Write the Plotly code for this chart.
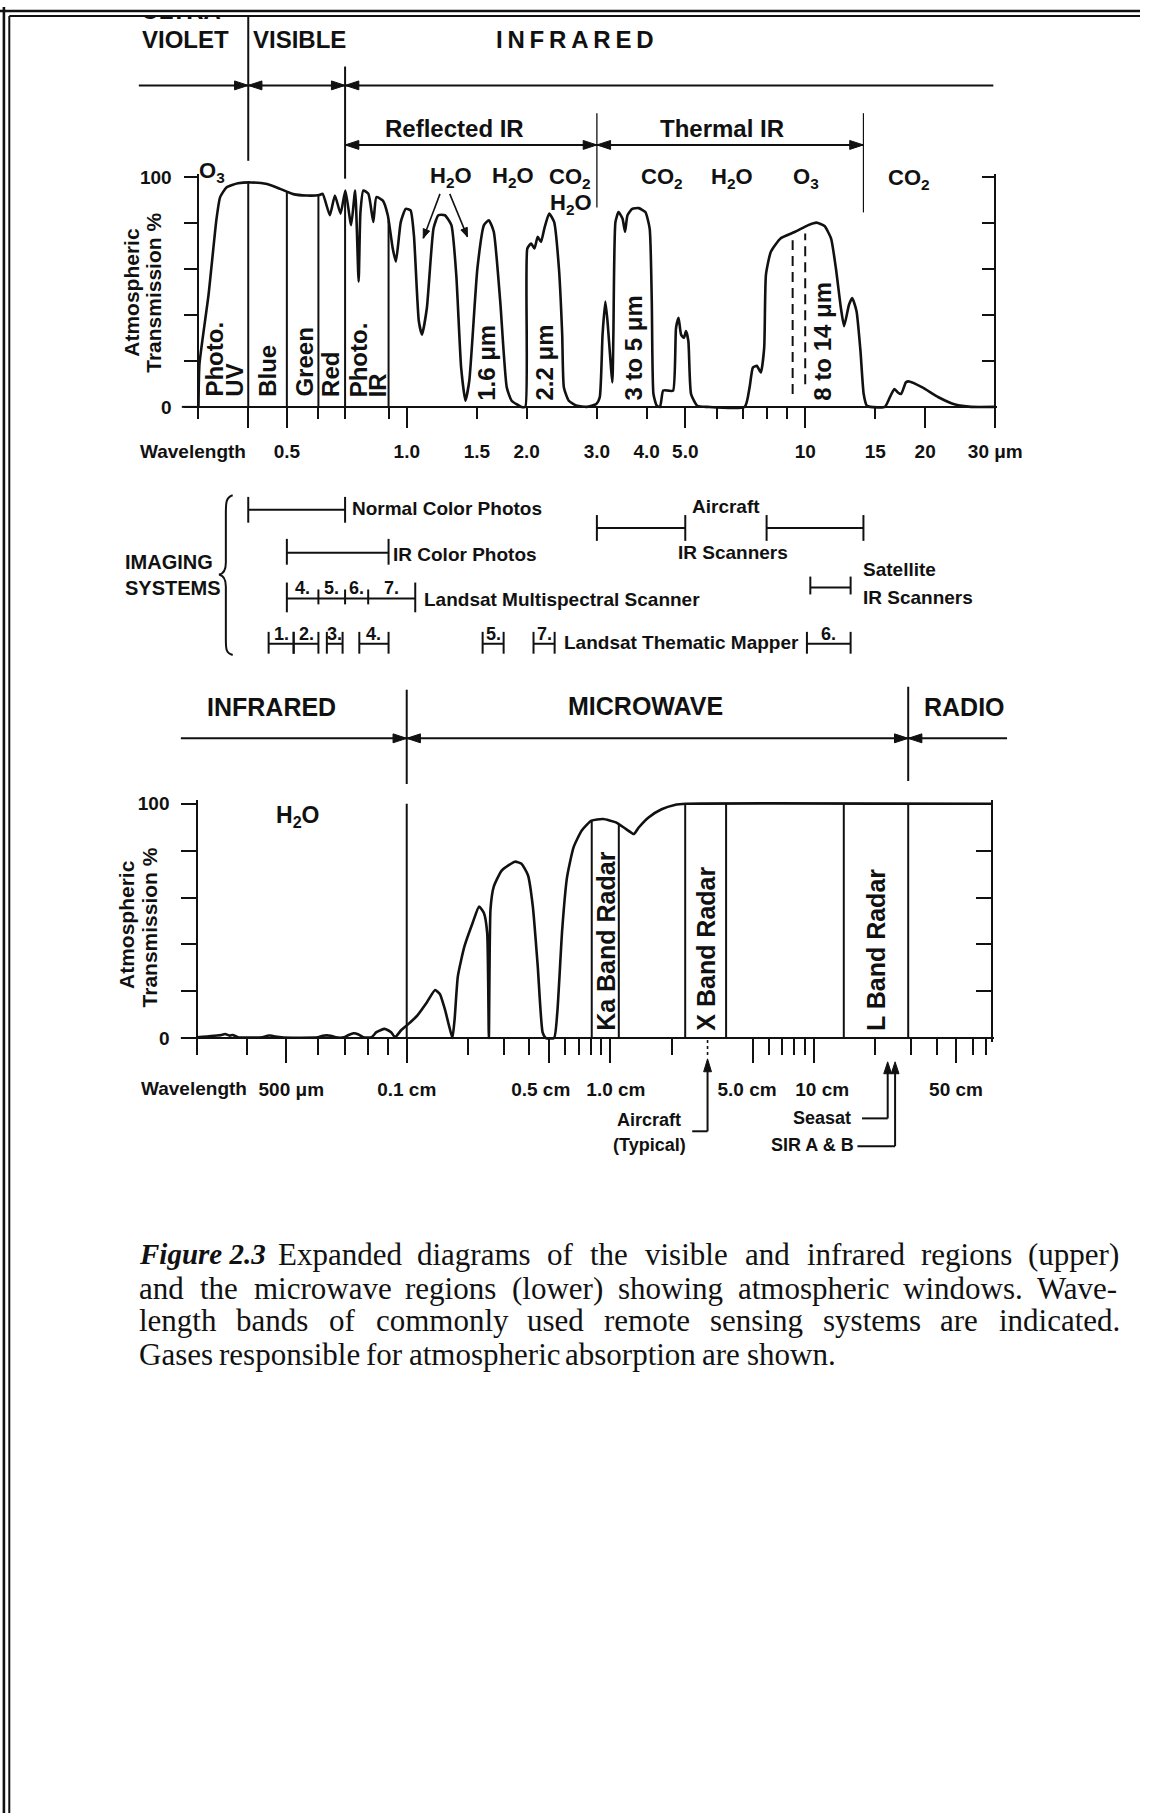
import numpy as np
import plotly.graph_objects as go

W, H = 1166, 1820
SANS = "Liberation Sans, Arial, Helvetica, sans-serif"
SERIF = "Liberation Serif, Times New Roman, serif"
INK = "#111111"

# ---------------- data: upper panel (visible / infrared), wavelength in micrometres ----------------
UP_WL = [0.300, 0.3017, 0.318, 0.333, 0.340, 0.353, 0.377, 0.406, 0.446, 0.481, 0.519, 0.560, 0.603,
         0.615, 0.641, 0.660, 0.682, 0.701, 0.725, 0.742, 0.757, 0.765, 0.778, 0.801, 0.824, 0.839,
         0.871, 0.896, 0.922, 0.939, 0.966, 0.994, 1.022, 1.042, 1.072, 1.092, 1.123, 1.167, 1.200,
         1.246, 1.294, 1.331, 1.369, 1.403, 1.435, 1.504, 1.562, 1.607, 1.653, 1.716, 1.782, 1.833,
         1.940, 1.984, 2.007, 2.052, 2.091, 2.131, 2.172, 2.214, 2.277, 2.343, 2.409, 2.455, 2.479,
         2.550, 2.674, 2.83, 2.99, 3.05, 3.10, 3.15, 3.19, 3.28, 3.30, 3.34, 3.40, 3.48, 3.53, 3.58,
         3.68, 3.82, 3.97, 4.07, 4.12, 4.16, 4.24, 4.32, 4.40, 4.53, 4.66, 4.74, 4.81, 4.88, 4.96,
         5.02, 5.09, 5.17, 5.36, 5.68, 7.05, 7.25, 7.39, 7.56, 7.74, 7.89, 7.97, 8.20, 8.67, 9.44,
         10.18, 10.67, 11.18, 11.61, 11.94, 12.29, 12.52, 12.88, 13.12, 13.45, 13.76, 14.02, 14.28,
         14.56, 15.85, 16.45, 16.76, 17.08, 17.41, 17.90, 18.24, 19.68, 21.6, 23.8, 26.1, 30.0]
UP_T = [0, 18.6, 48.9, 82.0, 91.4, 95.7, 97.4, 97.8, 97.1, 95.0, 92.7, 92.1, 92.3,
        92.8, 83.5, 92.1, 84.2, 94.3, 79.2, 94.3, 54.6, 84.9, 94.3, 92.8, 80.6, 91.4,
        89.9, 83.5, 69.0, 63.3, 80.6, 86.3, 85.6, 74.8, 37.3, 31.5, 43.1, 77.7, 83.5,
        83.5, 79.2, 57.5, 17.1, 2.7, 11.4, 60.4, 79.2, 81.3, 76.3, 46.0, 8.5, 2.7,
        0, 0, 69.0, 71.2, 69.0, 74.1, 71.9, 77.7, 84.2, 80.6, 60.4, 31.5, 8.5,
        2.7, 0.5, 0, 1.3, 4.2, 31.5, 45.9, 37.3, 10.7, 31.5, 80.6, 84.9, 82.0, 76.3, 83.5,
        86.3, 86.6, 84.9, 77.7, 46.0, 5.6, 0.5, 0, 7.1, 7.1, 7.1, 34.4, 38.8, 31.5, 30.1,
        33.0, 28.7, 5.6, 0.5, 0, 0, 8.5, 17.1, 17.9, 15.0, 25.8, 57.6, 67.6, 73.4, 76.3,
        79.2, 80.3, 78.8, 73.4, 60.4, 43.1, 35.2, 44.5, 47.4, 41.8, 24.5, 5.6, 0.5,
        0, 0, 5.6, 7.8, 6.3, 5.6, 10.7, 11.1, 8.5, 4.2, 1.0, 0, 0]

UP_BAND_EDGES = [0.4, 0.5, 0.6, 0.7, 0.9]           # Photo UV | Blue | Green | Red | Photo IR
UP_DASH_WL = [9.3, 10.0]                             # dashed O3 lines
UP_DASH_LO = [5.6, 9.9]
UP_DASH_HI = [72.6, 75.5]
H2O_ARROW_WL = [1.10, 1.42]                          # absorption bands pointed at by H2O
H2O_ARROW_T = [73.5, 74.1]
UP_LABEL_VALS = [0.5, 1.0, 1.5, 2.0, 3.0, 4.0, 5.0, 10, 15, 20, 30]
UP_LABEL_TEXT = ["0.5", "1.0", "1.5", "2.0", "3.0", "4.0", "5.0", "10", "15", "20", "30 μm"]
UP_MINOR = [0.3, 0.4, 0.6, 0.7, 0.9, 6, 7, 8, 9]
UP_LONG = [0.4, 0.5, 1.0, 5.0, 10, 20, 30]
Y_LABELED = [0, 100]
Y_MINOR = [20, 40, 60, 80]

# imaging systems (micrometres)
NORMAL_PHOTO = (0.4, 0.7)
IR_PHOTO = (0.5, 0.9)
MSS_EDGES = [0.5, 0.6, 0.7, 0.8, 1.05]
MSS_NAMES = ["4.", "5.", "6.", "7."]
TM_BANDS = [(0.45, 0.52), (0.52, 0.60), (0.63, 0.69), (0.76, 0.90), (1.55, 1.75), (2.08, 2.35), (10.1, 13.0)]
TM_NAMES = ["1.", "2.", "3.", "4.", "5.", "7.", "6."]
AIR_IR = [(3.0, 5.0), (8.0, 14.0)]
SAT_IR = (10.3, 13.0)

# ---------------- data: lower panel (microwave), wavelength in cm ----------------
LOW_WL = [0.0300, 0.0345, 0.0352, 0.0362, 0.0368, 0.0379, 0.0436, 0.0449, 0.0461, 0.0470, 0.0493,
          0.0600, 0.0617, 0.0646, 0.0665, 0.0697, 0.0716, 0.0737, 0.0758, 0.0779, 0.0817, 0.0840,
          0.0881, 0.0914, 0.0935, 0.0967, 0.1008, 0.1126, 0.1257, 0.1378, 0.1456, 0.1539, 0.1614,
          0.1676, 0.1719, 0.1783, 0.1920, 0.2104, 0.2266, 0.2395, 0.2484, 0.2531, 0.2579, 0.2675,
          0.2932, 0.3400, 0.3658, 0.3939, 0.4162, 0.4399, 0.4648, 0.4822, 0.5290, 0.5487, 0.5799,
          0.6129, 0.6600, 0.7234, 0.8078, 0.9194, 1.065, 1.190, 1.304, 1.378, 1.539, 1.785, 2.068,
          2.352, 75.0]
LOW_T = [0.3, 1.3, 1.7, 1.0, 1.3, 0.3, 0.3, 1.0, 1.0, 0.6, 0.2,
         0.3, 1.0, 1.0, 0.3, 0.3, 1.3, 2.0, 1.5, 0.3, 0.3, 2.5,
         3.9, 2.5, 0.3, 3.2, 5.6, 9.6, 15.3, 20.5, 18.7, 12.3, 5.2,
         0.0, 8.1, 26.4, 39.1, 49.0, 56.1, 53.3, 44.8, 0.0, 55.0, 64.6,
         71.6, 75.3, 74.4, 69.5, 56.1, 30.6, 2.4, 0.0, 0.0, 10.9, 46.2,
         68.8, 81.5, 88.6, 92.8, 93.5, 92.1, 89.3, 87.1, 89.9, 94.2, 97.7, 99.5,
         100.0, 100.0]
LOW_BAND_EDGES = [0.81, 1.10, 2.33, 3.70, 14.0, 29.0]   # Ka | X | L band radar edges
LOW_BOUNDARY = 0.1                                      # infrared / microwave
LOW_BANDS = [("Ka Band Radar", 0.81, 1.10), ("X Band Radar", 2.33, 3.70), ("L Band Radar", 14.0, 29.0)]
LOW_LONG = [0.05, 0.1, 0.5, 1.0, 5.0, 10, 50]
LOW_LABEL_AT = [0.0515, 0.1, 0.455, 1.065, 4.69, 10.97, 49.8]
LOW_LABEL_TEXT = ["500 μm", "0.1 cm", "0.5 cm", "1.0 cm", "5.0 cm", "10 cm", "50 cm"]
LOW_MINOR = [0.03, 0.04, 0.06, 0.07, 0.08, 0.09, 0.2, 0.3, 0.4, 0.6, 0.7, 0.8, 0.9,
             2, 6, 7, 8, 9, 20, 30, 40, 60, 70]
AIRCRAFT_CM = 3.0
SEASAT_CM = 23.0
SIR_CM = 25.0

# ---------------- geometry (page pixels) ----------------
def fx(px): return px / W
def fy(py): return 1 - py / H

UPX0, UPDEC = 203.0, 407.5          # pixel of 0.3 µm, pixels per decade
UPY0, UPY100 = 403.0, 171.7
def px_up(lam): return UPX0 + UPDEC * np.log10(np.asarray(lam, float) / 0.3)
up_ppu = (UPY0 - UPY100) / 100.0
def py_up(t): return UPY0 - up_ppu * np.asarray(t, float)

LOX1, LODEC, LOK = 416.0, 208.3, 1.967   # pixel of 0.1 cm, px per decade, stretch below 0.1 cm
LOY0, LOY100 = 1039.0, 803.0
def u_low(lam):
    lam = np.asarray(lam, float)
    r = np.log10(lam / 0.1)
    return np.where(lam < 0.1, LOK * r, r)
def px_low(lam): return LOX1 + LODEC * u_low(lam)
lo_ppu = (LOY0 - LOY100) / 100.0

XPAD, YPAD, UPAD = 0.004, 1.5, 0.008
xr_up = [np.log10(0.3) - XPAD, np.log10(30) + XPAD]
xd_up = [fx(UPX0 - XPAD * UPDEC), fx(float(px_up(30)) + XPAD * UPDEC)]
yr_up = [-YPAD, 100 + YPAD]
yd_up = [fy(UPY0 + YPAD * up_ppu), fy(UPY100 - YPAD * up_ppu)]

xr_lo = [float(u_low(0.03)) - UPAD, float(u_low(75)) + UPAD]
xd_lo = [fx(float(px_low(0.03)) - UPAD * LODEC), fx(float(px_low(75)) + UPAD * LODEC)]
yr_lo = [-YPAD, 100 + YPAD]
yd_lo = [fy(LOY0 + YPAD * lo_ppu), fy(LOY100 - YPAD * lo_ppu)]

TICKFONT = dict(family=SANS, size=19, color=INK, weight="bold")
common = dict(showgrid=False, zeroline=False, linecolor=INK, linewidth=2, tickcolor=INK,
              tickwidth=2, fixedrange=True)

fig = go.Figure()

# ---------------- upper chart ----------------
fig.add_trace(go.Scatter(x=UP_WL, y=UP_T, mode="lines", xaxis="x", yaxis="y",
                         line=dict(color=INK, width=2.6, shape="spline", smoothing=0.5),
                         hoverinfo="skip", showlegend=False))
lw = np.log10(UP_WL)
bx, by = [], []
for b in UP_BAND_EDGES:
    top = float(np.interp(np.log10(b), lw, UP_T))
    bx += [b, b, None]
    by += [0, top, None]
fig.add_trace(go.Scatter(x=bx, y=by, mode="lines", xaxis="x", yaxis="y",
                         line=dict(color=INK, width=2), hoverinfo="skip", showlegend=False))
dx, dy = [], []
for w_, lo, hi in zip(UP_DASH_WL, UP_DASH_LO, UP_DASH_HI):
    dx += [w_, w_, None]
    dy += [lo, hi, None]
fig.add_trace(go.Scatter(x=dx, y=dy, mode="lines", xaxis="x", yaxis="y",
                         line=dict(color=INK, width=2, dash="10px,6px"), hoverinfo="skip", showlegend=False))
fig.add_trace(go.Scatter(x=[], y=[], xaxis="x2", yaxis="y", showlegend=False))
fig.add_trace(go.Scatter(x=[], y=[], xaxis="x", yaxis="y2", showlegend=False))

# ---------------- lower chart ----------------
fig.add_trace(go.Scatter(x=u_low(LOW_WL), y=LOW_T, mode="lines", xaxis="x3", yaxis="y3",
                         line=dict(color=INK, width=2.6, shape="spline", smoothing=0.5),
                         hoverinfo="skip", showlegend=False))
lwl = u_low(LOW_WL)
bx, by = [], []
for b in LOW_BAND_EDGES:
    top = float(np.interp(u_low(b), lwl, LOW_T))
    bx += [float(u_low(b))] * 2 + [None]
    by += [0, top, None]
bx += [float(u_low(LOW_BOUNDARY))] * 2 + [None]
by += [0, 100, None]
fig.add_trace(go.Scatter(x=bx, y=by, mode="lines", xaxis="x3", yaxis="y3",
                         line=dict(color=INK, width=2), hoverinfo="skip", showlegend=False))
fig.add_trace(go.Scatter(x=[], y=[], xaxis="x3", yaxis="y4", showlegend=False))
fig.add_trace(go.Scatter(x=[], y=[], xaxis="x8", yaxis="y3", showlegend=False))

# ---------------- imaging systems bars (shared wavelength scale, page rows) ----------------
ix, iy = [], []
def bar(a, b, y, up, dn):
    ix.extend([a, b, None, a, a, None, b, b, None])
    iy.extend([y, y, None, y - up, y + dn, None, y - up, y + dn, None])
def tick(a, y, up, dn):
    ix.extend([a, a, None])
    iy.extend([y - up, y + dn, None])

Y_NCP, Y_IRP, Y_AIR, Y_SAT, Y_MSS, Y_TM = 506.7, 550.0, 525.0, 585.0, 596.0, 641.7
bar(*NORMAL_PHOTO, Y_NCP, 13, 13)
bar(*IR_PHOTO, Y_IRP, 14, 12)
for a, b in AIR_IR:
    bar(a, b, Y_AIR, 13, 13)
bar(*SAT_IR, Y_SAT, 11, 7)
bar(MSS_EDGES[0], MSS_EDGES[-1], Y_MSS, 16, 14)
for e in MSS_EDGES[1:-1]:
    tick(e, Y_MSS, 9, 6)
for a, b in TM_BANDS:
    bar(a, b, Y_TM, 12, 10)
fig.add_trace(go.Scatter(x=ix, y=iy, mode="lines", xaxis="x6", yaxis="y5",
                         line=dict(color=INK, width=2), hoverinfo="skip", showlegend=False))

# clipped "ULTRA-" heading at the very top (mostly hidden by the frame)
fig.add_trace(go.Scatter(x=[189.4], y=[6], mode="text", text=["<b>ULTRA-</b>"], xaxis="x5", yaxis="y5",
                         textfont=dict(family=SANS, size=24, color=INK), hoverinfo="skip", showlegend=False))

# ---------------- annotations ----------------
anns = []
def txt(s, x, y, size=19, xa="center", ya="middle", angle=0, bold=True, family=SANS):
    anns.append(dict(text=(f"<b>{s}</b>" if bold else s), x=x, y=y, xref="x5", yref="y5",
                     showarrow=False, xanchor=xa, yanchor=ya, textangle=angle,
                     font=dict(family=family, size=size, color=INK), borderpad=0, borderwidth=0))

TS = "\u2009"
txt("VIOLET", 189.4, 33, 24)
txt("VISIBLE", 306, 33, 24)
txt(TS.join("INFRARED"), 588.5, 33, 24)
txt("Reflected IR", 465, 122, 24)
txt("Thermal IR", 738.6, 122, 24)

txt("O<sub>3</sub>", 204, 166, 22, xa="left")
txt("H<sub>2</sub>O", 461.5, 171, 22)
txt("H<sub>2</sub>O", 525, 171, 22)
txt("CO<sub>2</sub>", 583, 172.5, 22)
txt("H<sub>2</sub>O", 584, 199, 22)
txt("CO<sub>2</sub>", 677.5, 172.5, 22)
txt("H<sub>2</sub>O", 749, 172.5, 22)
txt("O<sub>3</sub>", 824, 172.5, 22)
txt("CO<sub>2</sub>", 930, 173, 22)

txt("Atmospheric", 135, 287, 21, angle=-90)
txt("Transmission %", 157.5, 288, 21, angle=-90)
txt("Wavelength", 143, 448.3, 19, xa="left")
txt("Atmospheric", 130, 925, 21, angle=-90)
txt("Transmission %", 153, 928, 21, angle=-90)
txt("Wavelength", 144, 1090, 19, xa="left")

for s, x, yb in [("Photo.", 219, 393), ("UV", 239.5, 393), ("Blue", 274, 393), ("Green", 311, 393),
                 ("Red", 338, 393), ("Photo.", 367, 393), ("IR", 387, 393),
                 ("1.6 μm", 498, 397), ("2.2 μm", 557, 397), ("3 to 5 μm", 647.5, 397),
                 ("8 to 14 μm", 841, 397)]:
    txt(s, x, yb, 24, ya="bottom", angle=-90)

txt("IMAGING", 128, 559.5, 20, xa="left")
txt("SYSTEMS", 128, 585.5, 20, xa="left")
txt("Normal Color Photos", float(px_up(NORMAL_PHOTO[1])) + 7, 505, 19, xa="left")
txt("IR Color Photos", float(px_up(IR_PHOTO[1])) + 5, 551.7, 19, xa="left")
txt("Landsat Multispectral Scanner", float(px_up(MSS_EDGES[-1])) + 9, 596.7, 19, xa="left")
txt("Landsat Thematic Mapper", float(px_up(TM_BANDS[5][1])) + 10, 640, 19, xa="left")
txt("Aircraft", float(px_up(np.sqrt(AIR_IR[0][1] * AIR_IR[1][0]))), 503, 19)
txt("IR Scanners", 750, 549.5, 19)
txt("Satellite", float(px_up(SAT_IR[1])) + 13, 567, 19, xa="left")
txt("IR Scanners", float(px_up(SAT_IR[1])) + 13, 595, 19, xa="left")
for i, nm in enumerate(MSS_NAMES):
    c = np.sqrt(MSS_EDGES[i] * MSS_EDGES[i + 1])
    txt(nm, float(px_up(c)), 585, 18)
for (a, b), nm in zip(TM_BANDS, TM_NAMES):
    txt(nm, float(px_up(np.sqrt(a * b))), 632, 18)

txt("INFRARED", 278, 705, 25)
txt("MICROWAVE", 660, 704, 25)
txt("RADIO", 986.5, 705, 25)
txt("H<sub>2</sub>O", 304, 816, 23)
for s, a, b in LOW_BANDS:
    c = float(LOX1 + LODEC * (u_low(a) + u_low(b)) / 2)
    txt(s, c, 1032, 25, ya="bottom", angle=-90)
txt("Aircraft", 664, 1122, 18)
txt("(Typical)", 664, 1147, 18)
txt("Seasat", 870, 1120, 18, xa="right")
txt("SIR A & B", 873, 1147, 18, xa="right")

# caption (justified word by word, Times metrics)
TIMES = {' ': 250, '(': 333, ')': 333, '.': 250, '-': 333, ',': 250, 'a': 444, 'b': 500, 'c': 444,
         'd': 500, 'e': 444, 'f': 333, 'g': 500, 'h': 500, 'i': 278, 'j': 278, 'k': 500, 'l': 278,
         'm': 778, 'n': 500, 'o': 500, 'p': 500, 'q': 500, 'r': 333, 's': 389, 't': 278, 'u': 500,
         'v': 500, 'w': 722, 'x': 500, 'y': 500, 'z': 444, 'E': 611, 'G': 722, 'W': 944}
def tw(s, size): return sum(TIMES.get(c, 500) for c in s) * size / 1000.0
CAP_SIZE = 31
def cap_line(text, y, x0, x1=None):
    words = text.split()
    widths = [tw(w_, CAP_SIZE) for w_ in words]
    gap = 0.27 * CAP_SIZE if x1 is None else (x1 - x0 - sum(widths)) / (len(words) - 1)
    x = x0
    for w_, wd in zip(words, widths):
        txt(w_, x, y, CAP_SIZE, xa="left", bold=False, family=SERIF)
        x += wd + gap
txt("<b><i>Figure 2.3</i></b>", 142, 1257, 29, xa="left", bold=False, family=SERIF)
cap_line("Expanded diagrams of the visible and infrared regions (upper)", 1257, 284, 1143)
cap_line("and the microwave regions (lower) showing atmospheric windows. Wave-", 1291, 142, 1143)
cap_line("length bands of commonly used remote sensing systems are indicated.", 1324, 142, 1143)
cap_line("Gases responsible for atmospheric absorption are shown.", 1358, 142)

# ---------------- shapes (frame, region arrows, pointers) ----------------
shapes = []
def seg(x0, y0, x1, y1, w=2, dash="solid"):
    shapes.append(dict(type="line", x0=x0, y0=y0, x1=x1, y1=y1, xref="x5", yref="y5",
                       line=dict(color=INK, width=w, dash=dash), layer="above"))
def poly(pts):
    path = "M " + " L ".join(f"{a:.1f},{b:.1f}" for a, b in pts) + " Z"
    shapes.append(dict(type="path", path=path, xref="x5", yref="y5", fillcolor=INK,
                       line=dict(color=INK, width=1), layer="above"))
def head(x, y, d, L=14, hw=4.5):
    if d == "r":
        poly([(x, y), (x - L, y - hw), (x - L, y + hw)])
    elif d == "l":
        poly([(x, y), (x + L, y - hw), (x + L, y + hw)])
    else:
        poly([(x, y), (x - hw, y + L), (x + hw, y + L)])
def arrow_to(xt, yt, xs, ys, L=9, hw=3.5, w=1.6):
    seg(xs, ys, xt, yt, w)
    v = np.array([xt - xs, yt - ys], float)
    v /= np.hypot(*v)
    n = np.array([-v[1], v[0]])
    b = np.array([xt, yt]) - L * v
    poly([(xt, yt), tuple(b + hw * n), tuple(b - hw * n)])

# mask + frame
shapes.append(dict(type="rect", x0=0, x1=W, y0=0, y1=9.6, xref="x5", yref="y5",
                   fillcolor="white", line=dict(width=0), layer="above"))
seg(4, 0, 4, H, 2.6)
seg(9.5, 9, 9.5, H, 2)
seg(0, 4, W, 4, 2.6)
seg(9.5, 9, W, 9, 2)

p04, p07, p3, p14 = [float(px_up(v)) for v in (0.4, 0.7, 3.0, 14.0)]
YA1, YA2 = 79, 139
seg(142, YA1, p04, YA1); head(p04, YA1, "r")
seg(p04, YA1, p07, YA1); head(p04, YA1, "l"); head(p07, YA1, "r")
seg(p07, YA1, 1016, YA1); head(p07, YA1, "l")
seg(p04, 10, p04, 155)
seg(p07, 60, p07, 173)
seg(p07, YA2, p3, YA2); head(p07, YA2, "l"); head(p3, YA2, "r")
seg(p3, YA2, p14, YA2); head(p3, YA2, "l"); head(p14, YA2, "r")
seg(p3, 107, p3, 202, 1.3)
seg(p14, 107, p14, 207, 1.2)
seg(186, UPY0, UPX0, UPY0)
seg(185, LOY0, float(px_low(0.03)), LOY0)

# H2O pointer arrows to the 1.1 and 1.4 µm absorption bands
for wl, tv, (xs, ys) in zip(H2O_ARROW_WL, H2O_ARROW_T, [(450, 188.3), (460, 188.3)]):
    arrow_to(float(px_up(wl)), float(py_up(tv)), xs, ys)

# brace for imaging systems
shapes.append(dict(type="path", xref="x5", yref="y5", layer="above", line=dict(color=INK, width=2),
                   path="M 238,492 C 231,494 231,500 231,511 L 231,560 C 231,567 229,571 224,572 "
                        "C 229,573 231,577 231,584 L 231,637 C 231,647 231,651 238,653"))

# lower region arrows
p01, p29 = float(px_low(0.1)), float(px_low(29.0))
YA3 = 737
seg(185, YA3, p01, YA3); head(p01, YA3, "r")
seg(p01, YA3, p29, YA3); head(p01, YA3, "l"); head(p29, YA3, "r")
seg(p29, YA3, 1030, YA3); head(p29, YA3, "l")
seg(p01, 688, p01, 783)
seg(p29, 685, p29, 780)

# pointers below the lower axis
pa, ps, pr = float(px_low(AIRCRAFT_CM)), float(px_low(SEASAT_CM)), float(px_low(SIR_CM))
seg(pa, 1041, pa, 1059, 1.6, "dot")
head(pa, 1060, "u", 13, 4)
seg(pa, 1072, pa, 1133); seg(708, 1133, pa, 1133)
head(ps, 1063, "u", 12, 4)
seg(ps, 1074, ps, 1120); seg(881.7, 1120, ps, 1120)
head(pr, 1063, "u", 12, 4)
seg(pr, 1074, pr, 1148); seg(877, 1148, pr, 1148)

# ---------------- layout ----------------
fig.update_layout(
    width=W, height=H, margin=dict(l=0, r=0, t=0, b=0, pad=0),
    paper_bgcolor="white", plot_bgcolor="rgba(0,0,0,0)", showlegend=False, hovermode=False,
    annotations=anns, shapes=shapes,
    xaxis=dict(type="log", domain=xd_up, range=xr_up, anchor="free", position=fy(UPY0),
               showline=True, ticks="outside", ticklen=11, tickmode="array",
               tickvals=UP_LABEL_VALS, ticktext=UP_LABEL_TEXT, tickfont=TICKFONT,
               ticklabelstandoff=16,
               minor=dict(tickmode="array", tickvals=UP_MINOR, ticks="outside", ticklen=11,
                          tickwidth=2, tickcolor=INK, showgrid=False), **common),
    xaxis2=dict(type="log", overlaying="x", range=xr_up, anchor="free", position=fy(UPY0),
                showline=False, ticks="outside", ticklen=20, tickmode="array", tickvals=UP_LONG,
                showticklabels=False, **common),
    yaxis=dict(domain=yd_up, range=yr_up, anchor="free", position=fx(UPX0), showline=True,
               ticks="outside", ticklen=13, tickmode="array", tickvals=Y_LABELED,
               ticktext=["0", "100"], tickfont=TICKFONT, ticklabelstandoff=9,
               minor=dict(tickmode="array", tickvals=Y_MINOR, ticks="outside", ticklen=13,
                          tickwidth=2, tickcolor=INK, showgrid=False), **common),
    yaxis2=dict(overlaying="y", side="right", range=yr_up, anchor="free", position=fx(float(px_up(30))),
                showline=True, ticks="inside", ticklen=12, tickmode="array", tickvals=[20, 40, 60, 80, 100],
                showticklabels=False, **common),
    xaxis3=dict(domain=xd_lo, range=xr_lo, anchor="free", position=fy(LOY0), showline=True,
                ticks="outside", ticklen=24, tickmode="array", tickvals=list(u_low(LOW_LONG)),
                showticklabels=False,
                minor=dict(tickmode="array", tickvals=list(u_low(LOW_MINOR)), ticks="outside",
                           ticklen=16, tickwidth=2, tickcolor=INK, showgrid=False), **common),
    xaxis8=dict(overlaying="x3", range=xr_lo, anchor="free", position=fy(LOY0), showline=False,
                ticks="", ticklen=0, tickmode="array", tickvals=list(u_low(LOW_LABEL_AT)),
                ticktext=LOW_LABEL_TEXT, tickfont=TICKFONT, ticklabelstandoff=38, **common),
    yaxis3=dict(domain=yd_lo, range=yr_lo, anchor="free", position=fx(float(px_low(0.03))),
                showline=True, ticks="outside", ticklen=15, tickmode="array", tickvals=Y_LABELED,
                ticktext=["0", "100"], tickfont=TICKFONT, ticklabelstandoff=8,
                minor=dict(tickmode="array", tickvals=Y_MINOR, ticks="outside", ticklen=15,
                           tickwidth=2, tickcolor=INK, showgrid=False), **common),
    yaxis4=dict(overlaying="y3", side="right", range=yr_lo, anchor="free", position=fx(float(px_low(75))),
                showline=True, ticks="inside", ticklen=15, tickmode="array", tickvals=Y_MINOR,
                showticklabels=False, **common),
    xaxis5=dict(domain=[0, 1], range=[0, W], visible=False, anchor="y5", fixedrange=True),
    yaxis5=dict(domain=[0, 1], range=[H, 0], visible=False, anchor="x5", fixedrange=True),
    xaxis6=dict(domain=[0, 1], type="log", visible=False, anchor="y5", fixedrange=True,
                range=[np.log10(0.3) - UPX0 / UPDEC, np.log10(0.3) + (W - UPX0) / UPDEC]),
)
fig.add_trace(go.Scatter(x=[], y=[], xaxis="x5", yaxis="y5", showlegend=False))

fig.write_html("out.html", config={"displayModeBar": False, "staticPlot": True},
               post_script="document.body.style.margin='0';document.documentElement.style.overflow='hidden';")
